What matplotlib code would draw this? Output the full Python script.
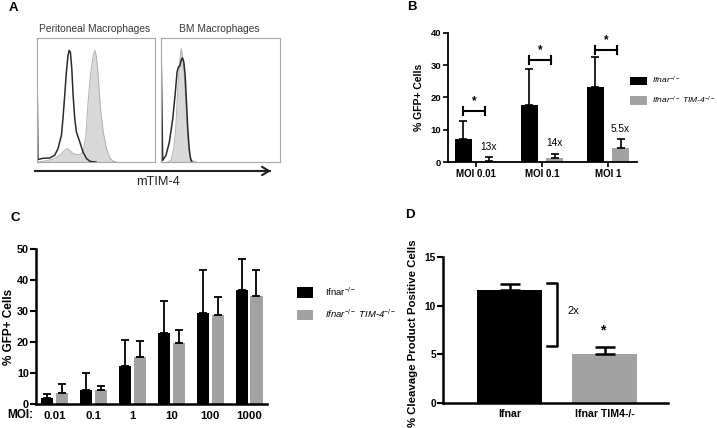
#! /usr/bin/env python
"""
TIM-4 expression on macrophages and GFP infection of Ifnar / TIM-4 knockouts
"""

import matplotlib.pyplot as plt
import numpy as np

W_PX, H_PX = 717, 428
DPI = 100

GRAY_BAR = '#a2a2a2'
HIST_FILL = '#d9d9d9'

# Panel A: flow histograms (x in % of the axis, y in % of the box height)
PM_OPEN_X = [0, 0, 0.8, 5, 10.8, 15, 17.8, 20.7, 22, 23.5, 24.9, 26.3, 27.2, 28.3, 29.5,
             30.6, 32, 33.4, 36.3, 39, 42, 45, 50]
PM_OPEN_Y = [0, 75, 2, 3, 3.2, 5.4, 10.8, 21.5, 35, 53.8, 72.6, 86, 90, 88.7, 75,
             53.8, 35, 24.2, 16, 8, 2.7, 0.5, 0]
PM_TIM4_X = [0, 5.1, 13.6, 19.3, 23.5, 25.8, 27.8, 30.6, 34.8, 37.7, 39.7, 41.4, 43.3, 45.3,
             47.6, 49, 50.4, 51.8, 53.8, 56.1, 58.9, 61.8, 64.6, 67.4]
PM_TIM4_Y = [0, 0.5, 2.2, 5.4, 9.4, 10.8, 9.4, 6.7, 5.9, 6.7, 10.8, 21.5, 48.4, 69.9,
             86, 90, 84.7, 69.9, 43, 24.2, 10.8, 3.2, 0.5, 0]
BM_OPEN_X = [0, 0, 1.4, 4.2, 7, 9.9, 11.8, 13.5, 14.6, 15.8, 16.9, 18, 19.2, 20.3, 21.4,
             22.5, 23.7, 24.8, 25.9]
BM_OPEN_Y = [0, 95, 1.3, 5.4, 16, 35, 53.8, 72.6, 76.6, 77.4, 82, 84, 80.6, 69.9, 48.4,
             26.9, 10.8, 2.7, 0]
BM_TIM4_X = [5.6, 8.5, 10.7, 12.4, 13.5, 14.6, 15.8, 16.9, 18, 19.2, 20.3, 21.4, 22.5,
             23.9, 25.9, 29.6]
BM_TIM4_Y = [0, 1.3, 10.8, 26.9, 48.4, 67.2, 80.6, 91.4, 86, 75.3, 59.1, 37.6, 18.8,
             6.7, 1.3, 0]

# Panel B
B_GROUPS = ['MOI 0.01', 'MOI 0.1', 'MOI 1']
B_IFNAR = [7.1, 17.7, 23.3]
B_IFNAR_ERR = [5.6, 11.1, 9.4]
B_TIM4 = [0.3, 1.3, 4.2]
B_TIM4_ERR = [1.2, 1.2, 2.8]
B_FOLD = ['13x', '14x', '5.5x']
B_SIG_Y = [15.8, 31.6, 34.7]

# Panel C
C_MOI = ['0.01', '0.1', '1', '10', '100', '1000']
C_IFNAR = [1.8, 4.5, 12.4, 22.8, 29.3, 36.9]
C_IFNAR_ERR = [1.3, 5.6, 8.3, 10.3, 14.0, 9.9]
C_TIM4 = [3.7, 4.5, 15.3, 19.8, 28.6, 34.9]
C_TIM4_ERR = [2.8, 1.4, 5.1, 4.1, 5.9, 8.2]

# Panel D
D_GROUPS = ['Ifnar', 'Ifnar TIM4-/-']
D_VALUES = [11.65, 5.0]
D_ERR = [0.55, 0.75]

LBL_IFNAR = r'Ifnar$^{-/-}$'
LBL_TIM4 = r'Ifnar$^{-/-}$ TIM-4$^{-/-}$'


def px_axes(fig, left, top, right, bottom):
  return fig.add_axes([left / W_PX, 1 - bottom / H_PX,
                       (right - left) / W_PX, (bottom - top) / H_PX])


def fx(px):
  return px / W_PX


def fy(px):
  return 1 - px / H_PX


def style_axes(ax, lw):
  for side in ('top', 'right'):
    ax.spines[side].set_visible(False)
  for side in ('left', 'bottom'):
    ax.spines[side].set_linewidth(lw)


def up_errors(ax, x, vals, errs, lw, cap):
  ax.errorbar(x, vals, yerr=[np.zeros(len(vals)), errs], fmt='none', ecolor='black',
              elinewidth=lw, capsize=cap, capthick=lw, zorder=3)


def panel_a(fig):
  fig.text(fx(13), fy(8), 'A', fontsize=9.5, fontweight='bold', ha='center', va='center')
  boxes = [(37, 155, 'Peritoneal Macrophages', PM_OPEN_X, PM_OPEN_Y, PM_TIM4_X, PM_TIM4_Y),
           (161, 280, 'BM Macrophages', BM_OPEN_X, BM_OPEN_Y, BM_TIM4_X, BM_TIM4_Y)]
  for left, right, title, ox, oy, tx, ty in boxes:
    ax = px_axes(fig, left, 38, right, 162)
    ax.fill_between(tx, ty, color=HIST_FILL, lw=0)
    ax.plot(tx, ty, color='#b0b0b0', lw=0.7)
    ax.plot(ox, oy, color='#2a2a2a', lw=1.1)
    ax.set_xlim(0, 100)
    ax.set_ylim(0, 100)
    ax.set_xticks([])
    ax.set_yticks([])
    for sp in ax.spines.values():
      sp.set_color('#a8a8a8')
      sp.set_linewidth(0.8)
    fig.text(fx((left + right) / 2 - 1), fy(29), title, fontsize=7.4, color='#3a3a3a',
             ha='center', va='center')
  fig.add_artist(plt.Line2D([fx(35), fx(270)], [fy(171), fy(171)], color='#222', lw=1.5))
  fig.text(fx(158), fy(182), 'mTIM-4', fontsize=9.2, ha='center', va='center', color='#222')
  plt.annotate('', xy=(fx(271), fy(171)), xytext=(fx(255), fy(171)),
               xycoords='figure fraction', textcoords='figure fraction',
               arrowprops=dict(arrowstyle='->,head_length=0.5,head_width=0.3',
                               lw=1.5, color='#222', shrinkA=0, shrinkB=0))


def panel_b(fig):
  fig.text(fx(412), fy(7), 'B', fontsize=9.5, fontweight='bold', ha='center', va='center')
  ax = px_axes(fig, 448, 33, 637, 162)
  style_axes(ax, 1.3)
  x = np.arange(len(B_GROUPS))
  off, wid = 0.19, 0.27
  ax.bar(x - off, B_IFNAR, wid, color='black', label=LBL_IFNAR, zorder=2)
  ax.bar(x + off, B_TIM4, wid, color=GRAY_BAR, label=LBL_TIM4, zorder=2)
  up_errors(ax, x - off, B_IFNAR, B_IFNAR_ERR, 1.2, 3.2)
  up_errors(ax, x + off, B_TIM4, B_TIM4_ERR, 1.2, 3.2)

  for i, ys in enumerate(B_SIG_Y):
    x0, x1 = x[i] - off, x[i] + off - 0.05
    ax.plot([x0, x1], [ys, ys], color='black', lw=1.5)
    ax.plot([x0, x0], [ys - 1.3, ys + 1.3], color='black', lw=1.5)
    ax.plot([x1, x1], [ys - 1.3, ys + 1.3], color='black', lw=1.5)
    ax.text((x0 + x1) / 2, ys + 1.2, '*', fontsize=8.5, fontweight='bold', ha='center',
            va='bottom')
    top = B_TIM4[i] + B_TIM4_ERR[i]
    ax.text(x[i] + off, top + 3.3, B_FOLD[i], fontsize=7.3, ha='center', va='center')

  ax.set_xlim(-0.424, 2.44)
  ax.set_ylim(0, 40)
  ax.set_yticks(np.arange(0, 41, 10), [str(t) for t in range(0, 41, 10)],
                fontsize=6.8, fontweight='bold')
  ax.set_xticks(x, B_GROUPS, fontsize=7, fontweight='bold')
  ax.tick_params(axis='both', length=3.5, width=1.2, pad=1.5)
  ax.set_ylabel('% GFP+ Cells', fontsize=7.5, fontweight='bold')
  ax.yaxis.set_label_coords(-0.125, 0.5)
  ax.legend(loc='upper left', bbox_to_anchor=(fx(630), fy(75)), bbox_transform=fig.transFigure,
            frameon=False, prop={'size': 6.1, 'style': 'italic'}, handlelength=2.0,
            handleheight=1.2, handletextpad=0.6, labelspacing=0.95, borderpad=0,
            borderaxespad=0)


def panel_c(fig):
  fig.text(fx(15), fy(218), 'C', fontsize=9.5, fontweight='bold', ha='center', va='center')
  ax = px_axes(fig, 36, 249, 267, 404)
  style_axes(ax, 1.8)
  x = np.arange(len(C_MOI))
  off, wid = 0.19, 0.31
  ax.bar(x - off, C_IFNAR, wid, color='black', label=LBL_IFNAR, zorder=2)
  ax.bar(x + off, C_TIM4, wid, color=GRAY_BAR, label=LBL_TIM4, zorder=2)
  up_errors(ax, x - off, C_IFNAR, C_IFNAR_ERR, 1.3, 3)
  up_errors(ax, x + off, C_TIM4, C_TIM4_ERR, 1.3, 3)
  ax.set_xlim(-0.473, 5.46)
  ax.set_ylim(0, 50)
  ax.set_yticks(np.arange(0, 51, 10), [str(t) for t in range(0, 51, 10)],
                fontsize=7.8, fontweight='bold')
  ax.set_xticks(x, C_MOI, fontsize=8.2, fontweight='bold')
  ax.tick_params(axis='y', length=4, width=1.5, pad=1)
  ax.tick_params(axis='x', length=0, pad=5)
  fig.text(fx(20), fy(415.5), 'MOI:', fontsize=8.5, fontweight='bold', ha='center',
           va='center')
  ax.set_ylabel('% GFP+ Cells', fontsize=8.5, fontweight='bold')
  ax.yaxis.set_label_coords(-0.09, 0.5)
  leg = ax.legend(loc='upper left', bbox_to_anchor=(fx(297), fy(285)),
                  bbox_transform=fig.transFigure, frameon=False, fontsize=6.8,
                  handlelength=1.7, handleheight=1.35, handletextpad=1.3,
                  labelspacing=1.05, borderpad=0, borderaxespad=0)
  leg.get_texts()[1].set_fontstyle('italic')


def panel_d(fig):
  fig.text(fx(410), fy(215), 'D', fontsize=9.5, fontweight='bold', ha='center', va='center')
  ax = px_axes(fig, 443, 257, 668, 403)
  style_axes(ax, 1.8)
  x = np.arange(len(D_GROUPS))
  ax.bar(x, D_VALUES, 0.684, color=['black', GRAY_BAR], zorder=2)
  up_errors(ax, x, D_VALUES, D_ERR, 1.8, 7)

  top = D_VALUES[0] + D_ERR[0] + 0.15
  bottom = D_VALUES[1] + D_ERR[1] + 0.1
  ax.plot([0.395, 0.5, 0.5, 0.395], [top, top, bottom, bottom], color='black', lw=1.8)
  ax.text(0.67, (top + bottom) / 2 + 0.4, '2x', fontsize=8, ha='center', va='center')
  ax.text(x[1] - 0.02, bottom + 0.9, '*', fontsize=10, fontweight='bold', ha='center',
          va='bottom')

  ax.set_xlim(-0.7, 1.668)
  ax.set_ylim(0, 15)
  ax.set_yticks([0, 5, 10, 15], ['0', '5', '10', '15'], fontsize=7.3, fontweight='bold')
  ax.set_xticks(x, D_GROUPS, fontsize=7.6, fontweight='bold')
  ax.tick_params(axis='y', length=4, width=1.5, pad=1)
  ax.tick_params(axis='x', length=0, pad=4)
  ax.set_ylabel('% Cleavage Product Positive Cells', fontsize=8.2, fontweight='bold')
  ax.yaxis.set_label_coords(-0.112, 0.48)


def main():
  plt.rcParams['font.family'] = ['Liberation Sans', 'DejaVu Sans']
  plt.rcParams['mathtext.fontset'] = 'custom'
  plt.rcParams['mathtext.rm'] = 'Liberation Sans'
  plt.rcParams['mathtext.it'] = 'Liberation Sans:italic'
  plt.rcParams['mathtext.bf'] = 'Liberation Sans:bold'

  fig = plt.figure(figsize=(W_PX / DPI, H_PX / DPI), dpi=DPI, facecolor='white')
  panel_a(fig)
  panel_b(fig)
  panel_c(fig)
  panel_d(fig)
  fig.savefig('out.png', dpi=DPI, facecolor='white')
  plt.close(fig)


if __name__ == "__main__":
  main()
